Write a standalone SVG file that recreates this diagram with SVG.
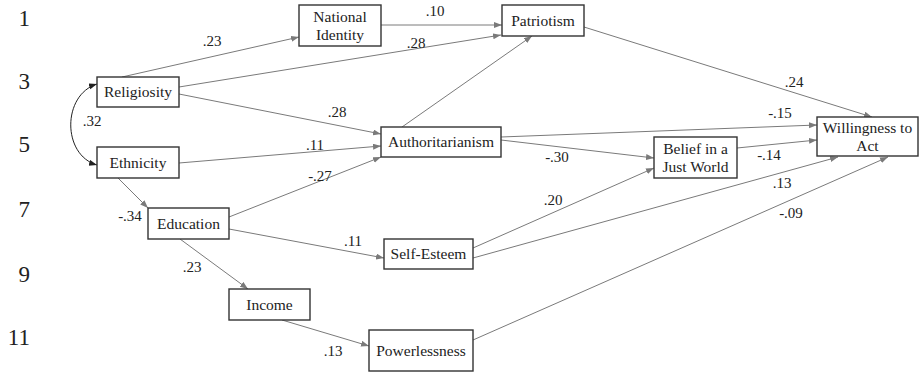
<svg xmlns="http://www.w3.org/2000/svg" width="919" height="373" viewBox="0 0 919 373">
<style>
  .box rect { fill: #fff; stroke: #333; stroke-width: 1.4; }
  .box text { font-family: "Liberation Serif", "Times New Roman", serif; font-size: 15.5px; fill: #222; text-anchor: middle; }
  .edge { fill: none; stroke: #7a7a7a; stroke-width: 1; marker-end: url(#arr); }
  .cov { fill: none; stroke: #222; stroke-width: 1; marker-end: url(#arrk); marker-start: url(#arrk); }
  .lbl { font-family: "Liberation Serif", "Times New Roman", serif; font-size: 15px; fill: #222; text-anchor: middle; }
  .row { font-family: "Liberation Serif", "Times New Roman", serif; font-size: 23px; fill: #222; text-anchor: end; }
</style>
<defs>
  <marker id="arr" markerUnits="userSpaceOnUse" markerWidth="9" markerHeight="7" refX="8" refY="3" orient="auto">
    <path d="M0,0 L8,3 L0,6 Z" fill="#7a7a7a"/>
  </marker>
  <marker id="arrk" markerUnits="userSpaceOnUse" markerWidth="9" markerHeight="7" refX="8" refY="3" orient="auto-start-reverse">
    <path d="M0,0 L8,3 L0,6 Z" fill="#222"/>
  </marker>
</defs>
<rect width="919" height="373" fill="#fff"/>
<g id="row-numbers">
  <text class="row" x="30" y="26">1</text>
  <text class="row" x="30" y="89">3</text>
  <text class="row" x="30" y="152">5</text>
  <text class="row" x="30" y="217">7</text>
  <text class="row" x="30" y="282">9</text>
  <text class="row" x="30" y="345">11</text>
</g>
<g id="connectors">
  <path class="edge" d="M122,77 L299,37"/>
  <path class="edge" d="M179,87 L501,35"/>
  <path class="edge" d="M381,25 L502,25"/>
  <path class="edge" d="M402,127 L532,36"/>
  <path class="edge" d="M179,94 L381,134"/>
  <path class="edge" d="M179,163 L381,146"/>
  <path class="edge" d="M229,217 L381,157"/>
  <path class="edge" d="M118,178 L148,208"/>
  <path class="edge" d="M229,229 L384,258"/>
  <path class="edge" d="M180,239 L248,289"/>
  <path class="edge" d="M282,320 L369,346"/>
  <path class="edge" d="M501,140 L654,158"/>
  <path class="edge" d="M501,137 L817,125"/>
  <path class="edge" d="M584,27 L872,117"/>
  <path class="edge" d="M737,148 L817,140"/>
  <path class="edge" d="M473,248 L654,168"/>
  <path class="edge" d="M473,258 L838,157"/>
  <path class="edge" d="M473,340 L888,157"/>
  <path class="cov" d="M97,84 C62,95 62,155 97,165"/>
</g>
<g id="edge-labels">
  <text class="lbl" x="212" y="46">.23</text>
  <text class="lbl" x="416" y="48">.28</text>
  <text class="lbl" x="435" y="16">.10</text>
  <text class="lbl" x="337" y="117">.28</text>
  <text class="lbl" x="315" y="150">.11</text>
  <text class="lbl" x="320" y="181">-.27</text>
  <text class="lbl" x="130" y="221">-.34</text>
  <text class="lbl" x="353" y="246">.11</text>
  <text class="lbl" x="192" y="272">.23</text>
  <text class="lbl" x="333" y="356">.13</text>
  <text class="lbl" x="557" y="162">-.30</text>
  <text class="lbl" x="780" y="118">-.15</text>
  <text class="lbl" x="794" y="87">.24</text>
  <text class="lbl" x="769" y="160">-.14</text>
  <text class="lbl" x="553" y="205">.20</text>
  <text class="lbl" x="782" y="188">.13</text>
  <text class="lbl" x="791" y="218">-.09</text>
  <text class="lbl" x="92" y="126">.32</text>
</g>
<g id="national-identity" class="box">
  <rect x="299" y="5" width="82" height="41"/>
  <text x="340" y="21.75">National</text>
  <text x="340" y="39.75">Identity</text>
</g>
<g id="patriotism" class="box">
  <rect x="502" y="5" width="82" height="31"/>
  <text x="543" y="25.75">Patriotism</text>
</g>
<g id="religiosity" class="box">
  <rect x="97" y="77" width="82" height="30"/>
  <text x="138" y="97.25">Religiosity</text>
</g>
<g id="ethnicity" class="box">
  <rect x="97" y="147" width="82" height="31"/>
  <text x="138" y="167.75">Ethnicity</text>
</g>
<g id="authoritarianism" class="box">
  <rect x="381" y="127" width="120" height="30"/>
  <text x="441" y="147.25">Authoritarianism</text>
</g>
<g id="belief-just-world" class="box">
  <rect x="654" y="137" width="83" height="41"/>
  <text x="695.5" y="153.75">Belief in a</text>
  <text x="695.5" y="171.75">Just World</text>
</g>
<g id="willingness" class="box">
  <rect x="817" y="117" width="101" height="39"/>
  <text x="867.5" y="132.75">Willingness to</text>
  <text x="867.5" y="150.75">Act</text>
</g>
<g id="education" class="box">
  <rect x="148" y="208" width="81" height="31"/>
  <text x="188.5" y="228.75">Education</text>
</g>
<g id="self-esteem" class="box">
  <rect x="384" y="239" width="89" height="30"/>
  <text x="428.5" y="259.25">Self-Esteem</text>
</g>
<g id="income" class="box">
  <rect x="229" y="289" width="81" height="31"/>
  <text x="269.5" y="309.75">Income</text>
</g>
<g id="powerlessness" class="box">
  <rect x="369" y="330" width="104" height="41"/>
  <text x="421" y="355.75">Powerlessness</text>
</g>
</svg>
